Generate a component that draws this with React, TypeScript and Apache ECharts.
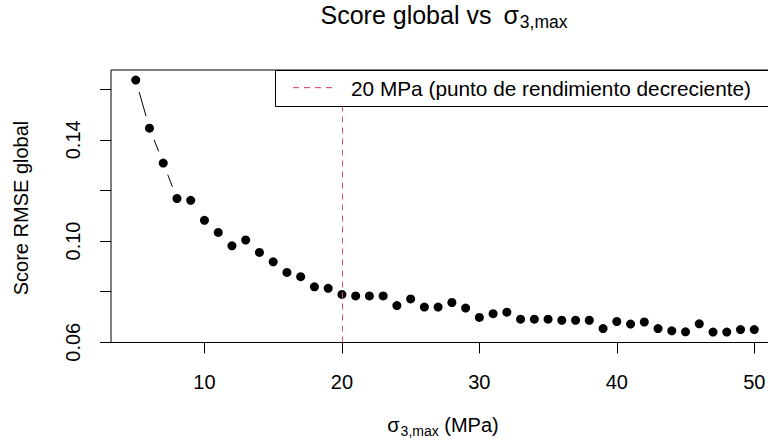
import React, { useEffect, useRef } from "react";
import * as echarts from "echarts";

// ---- data ----
const sigmaMax: number[] = [
  5, 6, 7, 8, 9, 10, 11, 12, 13, 14, 15, 16, 17, 18, 19, 20, 21, 22, 23, 24, 25, 26, 27,
  28, 29, 30, 31, 32, 33, 34, 35, 36, 37, 38, 39, 40, 41, 42, 43, 44, 45, 46, 47, 48, 49, 50,
];
const scoreRmse: number[] = [
  0.1636, 0.1446, 0.1308, 0.1168, 0.1161, 0.1082, 0.1034, 0.0981, 0.1004, 0.0955, 0.0918,
  0.0876, 0.0859, 0.0819, 0.0813, 0.0789, 0.0783, 0.0783, 0.0783, 0.0745, 0.0771, 0.0739,
  0.0739, 0.0757, 0.0735, 0.0698, 0.0713, 0.0719, 0.0691, 0.0691, 0.0691, 0.0687, 0.0687,
  0.0687, 0.0654, 0.0682, 0.0672, 0.068, 0.0654, 0.0645, 0.0641, 0.0673, 0.064, 0.064,
  0.065, 0.065,
];
const xTicks: number[] = [10, 20, 30, 40, 50];
const yTicks: number[] = [0.06, 0.08, 0.1, 0.12, 0.14, 0.16];
const yTickLabels: number[] = [0.06, 0.1, 0.14];
const thresholdX = 20;
const titleMain = "Score global vs";
const xName = "(MPa)";
const yName = "Score RMSE global";
const legendText = "20 MPa (punto de rendimiento decreciente)";
const sigma = "σ";
const sub = "3,max";

const FONT = "'Liberation Sans', Arial, sans-serif";
const RED = "#DF536B";

function rRange(v: number[]): [number, number] {
  const mn = Math.min(...v);
  const mx = Math.max(...v);
  const e = (mx - mn) * 0.04;
  return [mn - e, mx + e];
}

let ctx: CanvasRenderingContext2D | null = null;
function tw(text: string, size: number): number {
  if (!ctx) ctx = document.createElement("canvas").getContext("2d");
  if (!ctx) return text.length * size * 0.5;
  ctx.font = `${size}px "Liberation Sans", Arial, sans-serif`;
  return ctx.measureText(text).width;
}

export default function App() {
  const ref = useRef<HTMLDivElement>(null);

  useEffect(() => {
    if (!ref.current) return;
    const chart = echarts.init(ref.current, null, { renderer: "svg" });
    const [xMin, xMax] = rRange(sigmaMax);
    const [yMinR, yMax] = rRange(scoreRmse);
    const yMin = Math.min(yMinR, yTicks[0] - 0.0001);
    const pts = sigmaMax.map((x, i) => [x, scoreRmse[i]]);
    const GAP = 12.5;

    const gridLeft = 111;
    const gridTop = 70;
    const gridW = 668;
    const gridH = 272.5;

    // title pieces
    const TS = 25;
    const tMainW = tw(titleMain, TS);
    const tSigW = tw(sigma, TS);
    const tSubW = tw(sub, 17.5);
    const tTotal = tMainW + 12 + tSigW + 1 + tSubW;
    const tX0 = 444 - tTotal / 2;

    // x axis name pieces
    const xSigW = tw(sigma, 20);
    const xSubW = tw(sub, 14);
    const xRestW = tw(" " + xName, 20);
    const xTotal = xSigW + 1 + xSubW + xRestW;
    const xX0 = 443 - xTotal / 2;

    const txt = (text: string, x: number, y: number, size: number, extra: any = {}) => ({
      type: "text",
      x,
      y,
      z: 100,
      silent: true,
      ...extra,
      style: {
        text,
        fontSize: size,
        fontFamily: FONT,
        fill: "#000",
        align: "left",
        verticalAlign: "middle",
        ...(extra.style || {}),
      },
    });

    // legend key: four short dashes
    const dashes = [0, 1, 2, 3].map((k) => ({
      type: "rect",
      z: 100,
      silent: true,
      shape: { x: 293 + k * 11, y: 87, width: 6, height: 1.2 },
      style: { fill: RED, stroke: null },
    }));

    chart.setOption({
      animation: false,
      backgroundColor: "#fff",
      textStyle: { fontFamily: FONT },
      grid: {
        left: gridLeft,
        top: gridTop,
        width: gridW,
        height: gridH,
        outerBoundsMode: "none",
        containLabel: false,
        show: true,
        borderColor: "#000",
        borderWidth: 1,
        backgroundColor: "transparent",
      },
      xAxis: {
        type: "value",
        min: xMin,
        max: xMax,
        axisLine: { show: false },
        splitLine: { show: false },
        axisTick: {
          show: true,
          inside: false,
          length: 11,
          lineStyle: { color: "#000", width: 1 },
          customValues: xTicks,
        },
        axisLabel: {
          show: true,
          margin: 29,
          fontSize: 20,
          color: "#000",
          fontFamily: FONT,
          customValues: xTicks,
          formatter: (v: number) => String(v),
        },
      },
      yAxis: {
        type: "value",
        min: yMin,
        max: yMax,
        axisLine: { show: false },
        splitLine: { show: false },
        axisTick: {
          show: true,
          inside: false,
          length: 11,
          lineStyle: { color: "#000", width: 1 },
          customValues: yTicks,
        },
        axisLabel: {
          show: true,
          margin: 28,
          rotate: 90,
          fontSize: 20,
          color: "#000",
          fontFamily: FONT,
          customValues: yTickLabels,
          formatter: (v: number) => v.toFixed(2),
        },
      },
      series: [
        {
          type: "custom",
          silent: true,
          z: 2,
          clip: true,
          data: pts,
          encode: { x: 0, y: 1 },
          renderItem: (params: any, api: any) => {
            const i = params.dataIndex;
            if (i >= pts.length - 1) return { type: "group", children: [] };
            const p1 = api.coord(pts[i]);
            const p2 = api.coord(pts[i + 1]);
            const dx = p2[0] - p1[0];
            const dy = p2[1] - p1[1];
            const len = Math.hypot(dx, dy);
            if (len <= 2 * GAP) return { type: "group", children: [] };
            const ux = dx / len;
            const uy = dy / len;
            return {
              type: "line",
              shape: {
                x1: p1[0] + ux * GAP,
                y1: p1[1] + uy * GAP,
                x2: p2[0] - ux * GAP,
                y2: p2[1] - uy * GAP,
              },
              style: { stroke: "#000", lineWidth: 1, fill: null },
            };
          },
        },
        {
          type: "scatter",
          data: pts,
          symbol: "circle",
          symbolSize: 9,
          z: 3,
          itemStyle: { color: "#000", opacity: 1 },
          silent: true,
          markLine: {
            silent: true,
            symbol: ["none", "none"],
            label: { show: false },
            lineStyle: { color: RED, width: 1, type: [6, 5], opacity: 1 },
            data: [{ xAxis: thresholdX }],
          },
        },
      ],
      graphic: [
        // legend
        {
          type: "rect",
          z: 90,
          silent: true,
          shape: { x: 275.5, y: 70.5, width: 504, height: 36 },
          style: { fill: "#fff", stroke: "#000", lineWidth: 1 },
        },
        ...dashes,
        txt(legendText, 351, 88.5, 20.8),
        // title
        txt(titleMain, tX0, 14.7, TS),
        txt(sigma, tX0 + tMainW + 12, 14.7, TS),
        txt(sub, tX0 + tMainW + 12 + tSigW + 1, 22.4, 17.5),
        // x axis name
        txt(sigma, xX0, 424.5, 20),
        txt(sub, xX0 + xSigW + 1, 431, 14),
        txt(" " + xName, xX0 + xSigW + 1 + xSubW, 424.5, 20),
        // y axis name
        txt(yName, 21, 208, 20, {
          rotation: Math.PI / 2,
          style: { align: "center", verticalAlign: "middle" },
        }),
      ],
    });

    return () => chart.dispose();
  }, []);

  return (
    <div
      ref={ref}
      style={{ position: "fixed", left: 0, top: 0, width: 768, height: 445, background: "#fff" }}
    />
  );
}
